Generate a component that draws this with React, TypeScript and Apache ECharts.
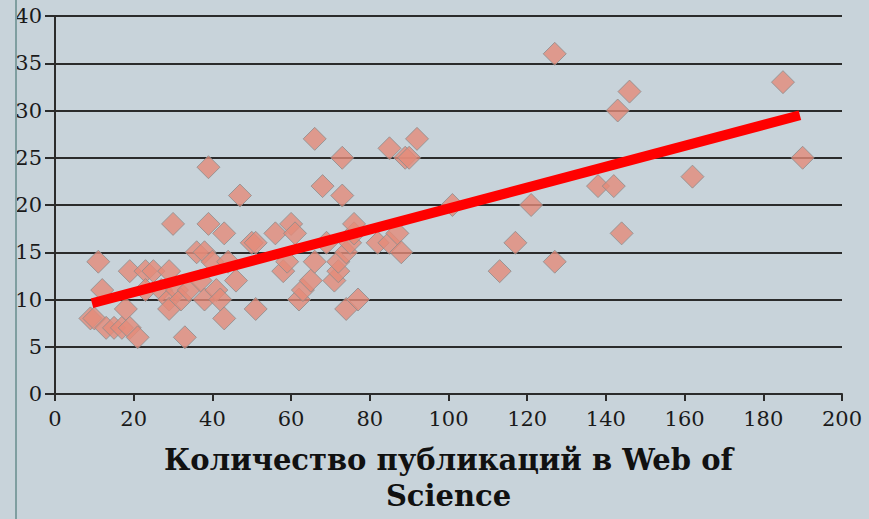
import React, { useEffect, useRef } from "react";
import * as echarts from "echarts";

const xValues = [11, 12, 9, 10, 13, 15, 17, 18, 19, 19, 21, 23, 23, 25, 27, 29, 29, 29, 30, 31, 32, 33, 34, 36, 37, 38, 38, 39, 39, 40, 41, 42, 43, 43, 44, 46, 47, 50, 51, 51, 56, 58, 59, 60, 61, 62, 63, 65, 66, 66, 68, 69, 71, 72, 72, 73, 73, 74, 74, 75, 76, 76, 77, 82, 85, 85, 87, 88, 89, 90, 92, 101, 113, 117, 121, 127, 127, 138, 142, 143, 144, 146, 162, 185, 190];
const yValues = [14, 11, 8, 8, 7, 7, 7, 9, 7, 13, 6, 13, 11, 13, 11, 13, 10, 9, 18, 11, 10, 6, 11, 15, 12, 10, 15, 18, 24, 14, 11, 10, 17, 8, 14, 12, 21, 16, 16, 9, 17, 13, 14, 18, 17, 10, 11, 12, 27, 14, 22, 16, 12, 13, 14, 21, 25, 9, 15, 16, 17, 18, 10, 16, 26, 16, 17, 15, 25, 25, 27, 20, 13, 16, 20, 36, 14, 22, 22, 30, 17, 32, 23, 33, 25];
const trendX = [9.4, 189.3];
const trendY = [9.6, 29.5];
const xTicks = { min: 0, max: 200, interval: 20 };
const yTicks = { min: 0, max: 40, interval: 5 };
const xTitle = "Количество публикаций в Web of\nScience";

export default function App() {
  const ref = useRef<HTMLDivElement>(null);
  useEffect(() => {
    if (!ref.current) return;
    const chart = echarts.init(ref.current, null, { renderer: "svg" });
    const dark = "#2b2b2b";
    chart.setOption({
      animation: false,
      backgroundColor: "#c8d3da",
      grid: { left: 55, right: 27, top: 16, bottom: 125, containLabel: false, outerBoundsMode: "none" },
      xAxis: {
        type: "value",
        min: xTicks.min,
        max: xTicks.max,
        interval: xTicks.interval,
        name: xTitle,
        nameLocation: "middle",
        nameGap: 48,
        nameTextStyle: {
          fontFamily: "DejaVu Serif",
          fontWeight: "bold",
          fontSize: 29,
          lineHeight: 36,
          color: "#111",
        },
        axisLine: { show: true, onZero: false, lineStyle: { color: dark, width: 2 } },
        axisTick: { show: true, length: 7, lineStyle: { color: dark, width: 2 } },
        axisLabel: { fontFamily: "DejaVu Serif", fontSize: 21, color: "#1a1a1a", margin: 14 },
        splitLine: { show: false },
      },
      yAxis: {
        type: "value",
        min: yTicks.min,
        max: yTicks.max,
        interval: yTicks.interval,
        axisLine: { show: true, lineStyle: { color: dark, width: 2 } },
        axisTick: { show: true, length: 10, lineStyle: { color: dark, width: 2 } },
        axisLabel: { fontFamily: "DejaVu Serif", fontSize: 21, color: "#1a1a1a", margin: 13 },
        splitLine: { show: true, lineStyle: { color: dark, width: 2 } },
      },
      graphic: [
        {
          type: "line",
          shape: { x1: 16, y1: 0, x2: 16, y2: 519 },
          style: { stroke: "#7f9ea0", lineWidth: 2 },
          z: 100,
        },
      ],
      series: [
        {
          type: "scatter",
          symbol: "diamond",
          symbolSize: 23,
          itemStyle: { color: "#e48b79", borderColor: "#8c8c8c", borderWidth: 1 },
          data: xValues.map((x, i) => [x, yValues[i]]),
          z: 2,
        },
        {
          type: "line",
          showSymbol: false,
          symbol: "none",
          lineStyle: { color: "#ff0000", width: 10, cap: "butt" },
          data: trendX.map((x, i) => [x, trendY[i]]),
          z: 3,
        },
      ],
    });
    return () => chart.dispose();
  }, []);
  return (
    <div style={{ position: "fixed", left: 0, top: 0, width: 869, height: 519 }}>
      <div ref={ref} style={{ width: 869, height: 519 }} />
    </div>
  );
}
